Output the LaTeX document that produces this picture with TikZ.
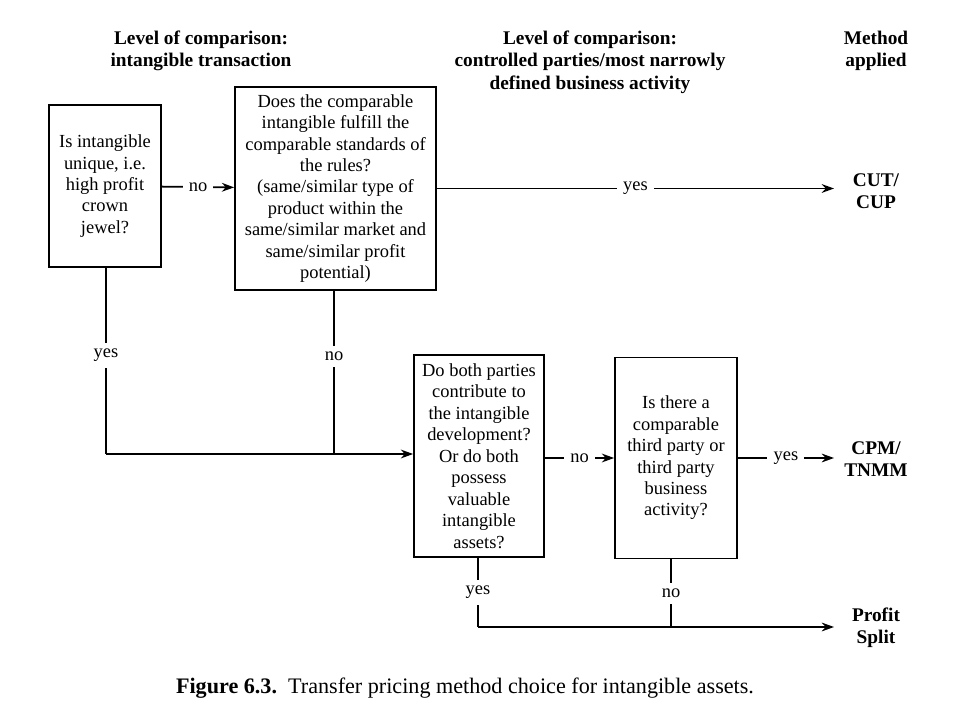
\documentclass[tikz,border=0pt]{standalone}
\usepackage{fontspec}
\setmainfont{Liberation Serif}
\usetikzlibrary{arrows.meta}

\tikzset{
  qbox/.style={draw, line width=1pt, align=center, inner sep=2pt,
    font=\fontsize{10.5}{12.2}\selectfont},
  lbl/.style={fill=white, inner sep=3.5pt, font=\fontsize{10.5}{12}\selectfont},
  head/.style={align=center, font=\fontsize{11}{12.8}\selectfont\bfseries},
  meth/.style={align=center, font=\fontsize{11}{12.8}\selectfont\bfseries}
}

\begin{document}
\begin{tikzpicture}[x=0.02cm, y=-0.02cm, line width=1pt, >={Stealth[length=7pt,width=5pt]}]
\useasboundingbox (0,0) rectangle (971,713);

% column headings
\node[head] (H1) at (201,51)
{Level of comparison:\\intangible transaction};
\node[head] (H2) at (590,62)
{Level of comparison:\\controlled parties/most narrowly\\defined business activity};
\node[head] (H3) at (876,51)
{Method\\applied};

% questions
\node[qbox, minimum width=2.24cm, minimum height=3.24cm] (Q1) at (105,186)
{Is intangible\\unique, i.e.\\high profit\\crown\\jewel?};
\node[qbox, minimum width=4.02cm, minimum height=4.06cm] (Q2) at (335.5,188.5)
{Does the comparable\\intangible fulfill the\\comparable standards of\\the rules?\\(same/similar type of\\product within the\\same/similar market and\\same/similar profit\\potential)};
\node[qbox, minimum width=2.6cm, minimum height=4.04cm] (Q3) at (479,456)
{Do both parties\\contribute to\\the intangible\\development?\\Or do both\\possess\\valuable\\intangible\\assets?};
\node[qbox, minimum width=2.44cm, minimum height=4.02cm] (Q4) at (676,458)
{Is there a\\comparable\\third party or\\third party\\business\\activity?};

% methods
\node[meth] (CUT) at (876,191) {CUT/\\CUP};
\node[meth] (CPM) at (876,459) {CPM/\\TNMM};
\node[meth] (PS) at (876,628) {Profit\\Split};

\coordinate (tip) at (834,0);
\coordinate (J1) at (106,454);
\coordinate (J2) at (334,454);
\coordinate (J3) at (478,627);
\coordinate (J4) at (671,627);

\draw[->] (Q1) to node[lbl]{no} (Q2);
\draw[->] (Q2.east) to node[lbl]{yes} (Q2.east -| tip);
\draw (Q1.south -| J1) to node[lbl, pos=0.47]{yes} (J1);
\draw (Q2.south -| J2) to node[lbl, pos=0.4]{no} (J2);
\draw[->] (J1) to (J1 -| Q3.west);
\draw[->] (Q3.east |- Q4) to node[lbl]{no} (Q4.west);
\draw[->] (Q4.east) to node[lbl]{yes} (Q4.east -| tip);
\draw (Q3.south -| J3) to node[lbl]{yes} (J3);
\draw (Q4.south -| J4) to node[lbl]{no} (J4);
\draw[->] (J3) to (J3 -| tip);

% caption
\node[font=\fontsize{12.6}{15}\selectfont] (CAP) at (465,688)
{\textbf{Figure 6.3.}\ \ Transfer pricing method choice for intangible assets.};
\end{tikzpicture}
\end{document}
